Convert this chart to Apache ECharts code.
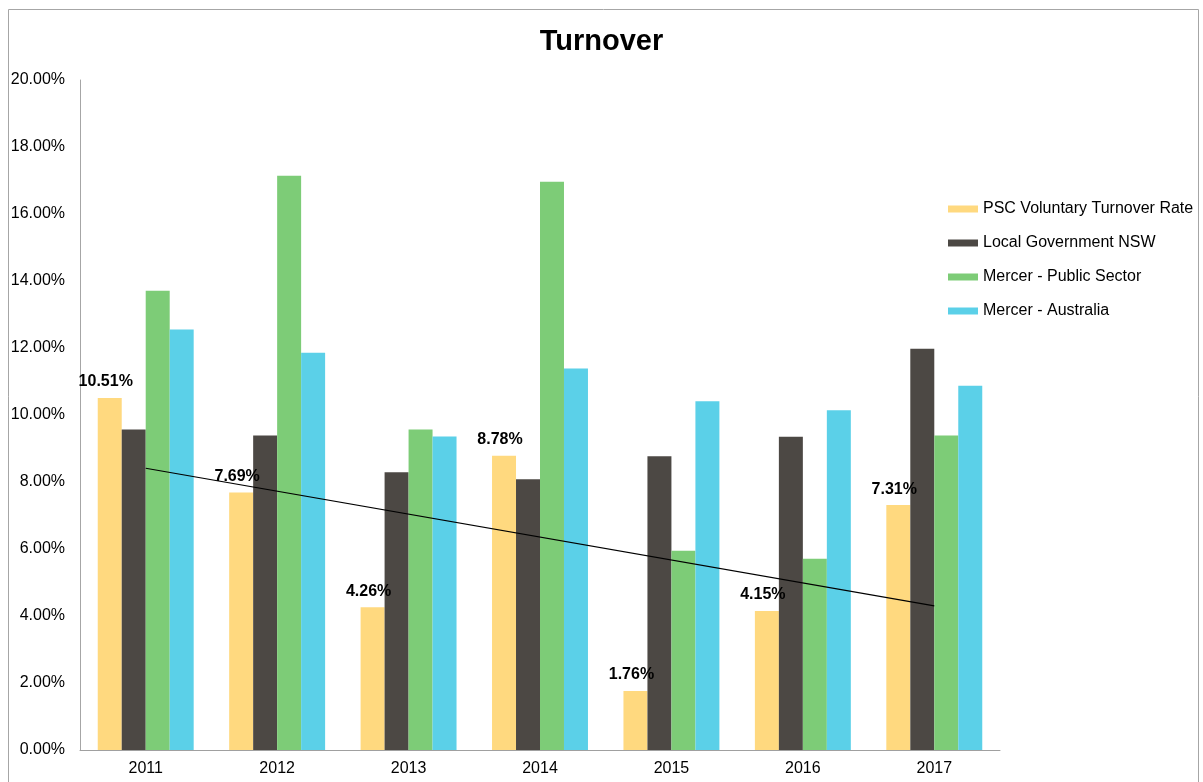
<!DOCTYPE html>
<html>
<head>
<meta charset="utf-8">
<script src="https://cdn.jsdelivr.net/npm/echarts@6/dist/echarts.min.js"></script>
<style>
html,body{margin:0;padding:0;background:#fff;}
#chart{width:1203px;height:782px;}
</style>
</head>
<body>
<div id="chart"></div>
<script>
const categories = ['2011','2012','2013','2014','2015','2016','2017'];
const psc = [10.51, 7.69, 4.26, 8.78, 1.76, 4.15, 7.31];
const localGov = [9.57, 9.39, 8.29, 8.08, 8.77, 9.35, 11.98];
const mercerPublic = [13.71, 17.14, 9.57, 16.96, 5.95, 5.71, 9.39];
const mercerAus = [12.55, 11.86, 9.36, 11.39, 10.41, 10.14, 10.87];
// linear trendline endpoints for 2011 and 2017
const trend = [8.41, null, null, null, null, null, 4.30];
const seriesNames = ['PSC Voluntary Turnover Rate','Local Government NSW','Mercer - Public Sector','Mercer - Australia'];
const yTicks = {min: 0, max: 20, interval: 2};

const font = "'Liberation Sans', Arial, sans-serif";
const chart = echarts.init(document.getElementById('chart'), null, {renderer: 'canvas'});
chart.setOption({
  backgroundColor: '#fff',
  animation: false,
  title: {
    text: 'Turnover', left: 'center', top: 22,
    textStyle: {fontFamily: font, fontSize: 29, fontWeight: 'bold', color: '#000'}
  },
  graphic: [{
    type: 'rect', shape: {x: 8.5, y: 9.5, width: 1190, height: 800},
    style: {fill: 'none', stroke: '#A6A6A6', lineWidth: 1}, silent: true
  }],
  legend: {
    orient: 'vertical', left: 948, top: 201, padding: 0,
    itemWidth: 30, itemHeight: 7, itemGap: 18,
    data: seriesNames,
    icon: 'rect',
    textStyle: {fontFamily: font, fontSize: 16, color: '#000'}
  },
  grid: {left: 80, right: 203, top: 80, bottom: 32, containLabel: false},
  xAxis: {
    type: 'category', data: categories,
    axisLine: {lineStyle: {color: '#A0A0A0', width: 1}},
    axisTick: {show: false},
    axisLabel: {fontFamily: font, fontSize: 16, color: '#000', margin: 11}
  },
  yAxis: {
    type: 'value', min: yTicks.min, max: yTicks.max, interval: yTicks.interval,
    axisLine: {show: true, lineStyle: {color: '#A6A6A6', width: 1}},
    axisTick: {show: false},
    splitLine: {show: false},
    axisLabel: {fontFamily: font, fontSize: 16, color: '#000', margin: 15,
      formatter: v => v.toFixed(2) + '%'}
  },
  series: [
    {name: seriesNames[0], type: 'bar', data: psc, barGap: '0%', barCategoryGap: '27%',
      itemStyle: {color: '#FFD97F'},
      label: {show: true, position: 'top', distance: 8, offset: [-4, 0],
        fontFamily: font, fontSize: 16, fontWeight: 'bold', color: '#000',
        formatter: p => p.value.toFixed(2) + '%'}},
    {name: seriesNames[1], type: 'bar', data: localGov, barGap: '0%', barCategoryGap: '27%',
      itemStyle: {color: '#4C4844'}},
    {name: seriesNames[2], type: 'bar', data: mercerPublic, barGap: '0%', barCategoryGap: '27%',
      itemStyle: {color: '#7DCC77'}},
    {name: seriesNames[3], type: 'bar', data: mercerAus, barGap: '0%', barCategoryGap: '27%',
      itemStyle: {color: '#5BD0E8'}},
    {name: 'Trend', type: 'line', data: trend, connectNulls: true, symbol: 'none',
      lineStyle: {color: '#000', width: 1.2}, z: 5, silent: true}
  ]
});
</script>
</body>
</html>
